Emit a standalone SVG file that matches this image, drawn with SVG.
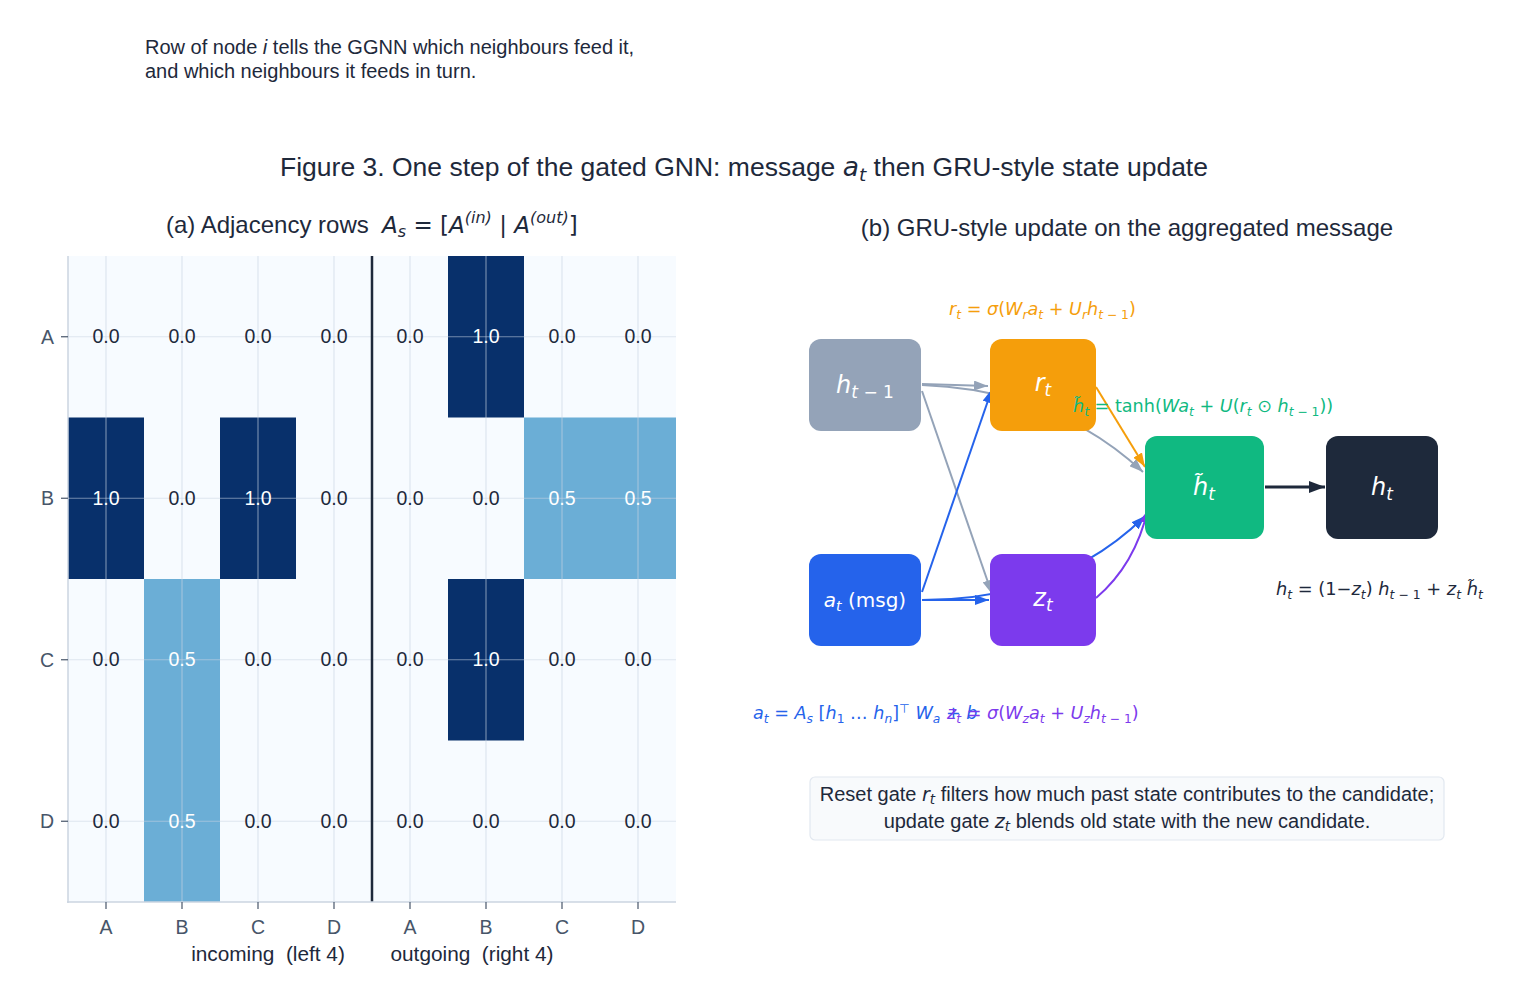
<svg xmlns="http://www.w3.org/2000/svg" width="1527" height="1002" viewBox="0 0 1527 1002">
<defs>
<style>
.t{font-family:"Liberation Sans",Arial,sans-serif;fill:#1e293b}
.m{font-family:"DejaVu Sans",sans-serif}
.i{font-style:italic}
.tick{font-family:"Liberation Sans",Arial,sans-serif;font-size:19.5px;fill:#475569}
.v{font-family:"Liberation Sans",Arial,sans-serif;font-size:19.5px;text-anchor:middle}
.dk{fill:#1e293b}
.wh{fill:#ffffff}
.grid{stroke:#cbd5e1;stroke-opacity:0.55;stroke-width:1.2}
.nl{font-family:"DejaVu Sans",sans-serif;fill:#ffffff;text-anchor:middle}
.e{fill:none;stroke-width:2}
</style>
<marker id="aG" viewBox="0 0 14 10" refX="14" refY="5" markerWidth="14" markerHeight="10" markerUnits="userSpaceOnUse" orient="auto"><path d="M0,0 L14,5 L0,10 z" fill="#94a3b8"/></marker>
<marker id="aB" viewBox="0 0 14 10" refX="14" refY="5" markerWidth="14" markerHeight="10" markerUnits="userSpaceOnUse" orient="auto"><path d="M0,0 L14,5 L0,10 z" fill="#2563eb"/></marker>
<marker id="aO" viewBox="0 0 14 10" refX="14" refY="5" markerWidth="14" markerHeight="10" markerUnits="userSpaceOnUse" orient="auto"><path d="M0,0 L14,5 L0,10 z" fill="#f59e0b"/></marker>
<marker id="aP" viewBox="0 0 14 10" refX="14" refY="5" markerWidth="14" markerHeight="10" markerUnits="userSpaceOnUse" orient="auto"><path d="M0,0 L14,5 L0,10 z" fill="#7c3aed"/></marker>
<marker id="aD" viewBox="0 0 16 12" refX="16" refY="6" markerWidth="16" markerHeight="12" markerUnits="userSpaceOnUse" orient="auto"><path d="M0,0 L16,6 L0,12 z" fill="#1e293b"/></marker>
</defs>
<rect width="1527" height="1002" fill="#ffffff"/>

<!-- top note -->
<text class="t" x="145" y="54" font-size="20">Row of node <tspan font-style="italic">i</tspan> tells the GGNN which neighbours feed it,</text>
<text class="t" x="145" y="78" font-size="20">and which neighbours it feeds in turn.</text>

<!-- title -->
<text class="t" x="744" y="176" font-size="26.5" text-anchor="middle">Figure 3. One step of the gated GNN: message <tspan class="m i">a</tspan><tspan class="m i" font-size="18.5" dy="4.5">t</tspan><tspan dy="-4.5"> then GRU-style state update</tspan></text>

<!-- (a) heatmap -->
<g id="heatmap">
<text class="t" x="166" y="233" font-size="24" xml:space="preserve">(a) Adjacency rows  <tspan class="m i" font-size="23">A</tspan><tspan class="m i" font-size="16" dy="4">s</tspan><tspan class="m" font-size="23" dy="-4"> = [</tspan><tspan class="m i" font-size="23">A</tspan><tspan class="m i" font-size="16" dy="-10">(in)</tspan><tspan class="m" font-size="23" dy="10"> | </tspan><tspan class="m i" font-size="23">A</tspan><tspan class="m i" font-size="16" dy="-10">(out)</tspan><tspan class="m" font-size="23" dy="10">]</tspan></text>
<rect x="68" y="256" width="608" height="646" fill="#f7fbff"/>
<rect x="448" y="256" width="76" height="161.5" fill="#08306b"/>
<rect x="68" y="417.5" width="76" height="161.5" fill="#08306b"/>
<rect x="220" y="417.5" width="76" height="161.5" fill="#08306b"/>
<rect x="524" y="417.5" width="152" height="161.5" fill="#6baed6"/>
<rect x="144" y="579" width="76" height="323" fill="#6baed6"/>
<rect x="448" y="579" width="76" height="161.5" fill="#08306b"/>
<g class="grid">
<line x1="106" y1="256" x2="106" y2="902"/><line x1="182" y1="256" x2="182" y2="902"/>
<line x1="258" y1="256" x2="258" y2="902"/><line x1="334" y1="256" x2="334" y2="902"/>
<line x1="410" y1="256" x2="410" y2="902"/><line x1="486" y1="256" x2="486" y2="902"/>
<line x1="562" y1="256" x2="562" y2="902"/><line x1="638" y1="256" x2="638" y2="902"/>
<line x1="68" y1="336.75" x2="676" y2="336.75"/><line x1="68" y1="498.25" x2="676" y2="498.25"/>
<line x1="68" y1="659.75" x2="676" y2="659.75"/><line x1="68" y1="821.25" x2="676" y2="821.25"/>
</g>
<line x1="372" y1="256" x2="372" y2="902" stroke="#1e293b" stroke-width="2.5"/>
<line x1="68" y1="256" x2="68" y2="903" stroke="#cbd5e1" stroke-width="1.5"/>
<line x1="67" y1="902" x2="676" y2="902" stroke="#cbd5e1" stroke-width="1.5"/>
<g stroke="#475569" stroke-width="1.2">
<line x1="61" y1="336.75" x2="68" y2="336.75"/><line x1="61" y1="498.25" x2="68" y2="498.25"/>
<line x1="61" y1="659.75" x2="68" y2="659.75"/><line x1="61" y1="821.25" x2="68" y2="821.25"/>
<line x1="106" y1="902" x2="106" y2="909"/><line x1="182" y1="902" x2="182" y2="909"/>
<line x1="258" y1="902" x2="258" y2="909"/><line x1="334" y1="902" x2="334" y2="909"/>
<line x1="410" y1="902" x2="410" y2="909"/><line x1="486" y1="902" x2="486" y2="909"/>
<line x1="562" y1="902" x2="562" y2="909"/><line x1="638" y1="902" x2="638" y2="909"/>
</g>
<g class="tick" text-anchor="end">
<text x="54" y="344">A</text><text x="54" y="505">B</text><text x="54" y="667">C</text><text x="54" y="828">D</text>
</g>
<g class="tick" text-anchor="middle">
<text x="106" y="934">A</text><text x="182" y="934">B</text><text x="258" y="934">C</text><text x="334" y="934">D</text>
<text x="410" y="934">A</text><text x="486" y="934">B</text><text x="562" y="934">C</text><text x="638" y="934">D</text>
</g>
<text class="t" x="268" y="961" font-size="20.8" text-anchor="middle" xml:space="preserve">incoming  (left 4)</text>
<text class="t" x="472" y="961" font-size="20.8" text-anchor="middle" xml:space="preserve">outgoing  (right 4)</text>
<g class="v">
<text x="106" y="343" class="dk">0.0</text><text x="182" y="343" class="dk">0.0</text><text x="258" y="343" class="dk">0.0</text><text x="334" y="343" class="dk">0.0</text>
<text x="410" y="343" class="dk">0.0</text><text x="486" y="343" class="wh">1.0</text><text x="562" y="343" class="dk">0.0</text><text x="638" y="343" class="dk">0.0</text>
<text x="106" y="505" class="wh">1.0</text><text x="182" y="505" class="dk">0.0</text><text x="258" y="505" class="wh">1.0</text><text x="334" y="505" class="dk">0.0</text>
<text x="410" y="505" class="dk">0.0</text><text x="486" y="505" class="dk">0.0</text><text x="562" y="505" class="wh">0.5</text><text x="638" y="505" class="wh">0.5</text>
<text x="106" y="666" class="dk">0.0</text><text x="182" y="666" class="wh">0.5</text><text x="258" y="666" class="dk">0.0</text><text x="334" y="666" class="dk">0.0</text>
<text x="410" y="666" class="dk">0.0</text><text x="486" y="666" class="wh">1.0</text><text x="562" y="666" class="dk">0.0</text><text x="638" y="666" class="dk">0.0</text>
<text x="106" y="828" class="dk">0.0</text><text x="182" y="828" class="wh">0.5</text><text x="258" y="828" class="dk">0.0</text><text x="334" y="828" class="dk">0.0</text>
<text x="410" y="828" class="dk">0.0</text><text x="486" y="828" class="dk">0.0</text><text x="562" y="828" class="dk">0.0</text><text x="638" y="828" class="dk">0.0</text>
</g>
</g>

<!-- (b) -->
<text class="t" x="1127" y="236" font-size="24" text-anchor="middle">(b) GRU-style update on the aggregated message</text>

<g id="connectors">
<line class="e" x1="922" y1="384" x2="988" y2="386" stroke="#94a3b8" marker-end="url(#aG)"/>
<line class="e" x1="922" y1="391" x2="992" y2="594" stroke="#94a3b8" marker-end="url(#aG)"/>
<path class="e" d="M922,385 Q1055,390 1143,472" stroke="#94a3b8" marker-end="url(#aG)"/>
<line class="e" x1="922" y1="592" x2="992" y2="389" stroke="#2563eb" marker-end="url(#aB)"/>
<line class="e" x1="922" y1="600" x2="989" y2="600" stroke="#2563eb" marker-end="url(#aB)"/>
<path class="e" d="M922,600 Q1060,600 1145,516" stroke="#2563eb" marker-end="url(#aB)"/>
<line class="e" x1="1096" y1="387" x2="1145" y2="467" stroke="#f59e0b" marker-end="url(#aO)"/>
<path class="e" d="M1096,598 Q1135,565 1148,509" stroke="#7c3aed" marker-end="url(#aP)"/>
<line x1="1265" y1="487" x2="1325" y2="487" stroke="#1e293b" stroke-width="3" marker-end="url(#aD)"/>
</g>

<g id="node-h_prev">
<rect x="809" y="339" width="112" height="92" rx="12" fill="#94a3b8"/>
<text class="nl" x="865" y="393" font-size="24"><tspan class="i">h</tspan><tspan font-size="17" class="i" dy="5">t</tspan><tspan font-size="17" dy="0"> − 1</tspan></text>
</g>
<g id="node-r">
<rect x="990" y="339" width="106" height="92" rx="12" fill="#f59e0b"/>
<text class="nl" x="1043" y="391" font-size="24"><tspan class="i">r</tspan><tspan font-size="17" class="i" dy="5">t</tspan></text>
</g>
<g id="node-a">
<rect x="809" y="554" width="112" height="92" rx="12" fill="#2563eb"/>
<text class="nl" x="865" y="607" font-size="20"><tspan class="i">a</tspan><tspan font-size="14" class="i" dy="4">t</tspan><tspan dy="-4"> (msg)</tspan></text>
</g>
<g id="node-z">
<rect x="990" y="554" width="106" height="92" rx="12" fill="#7c3aed"/>
<text class="nl" x="1043" y="606" font-size="24"><tspan class="i">z</tspan><tspan font-size="17" class="i" dy="5">t</tspan></text>
</g>
<g id="node-hcand">
<rect x="1145" y="436" width="119" height="103" rx="12" fill="#10b981"/>
<text class="nl" x="1204" y="495" font-size="24"><tspan class="i">h̃</tspan><tspan font-size="17" class="i" dy="5">t</tspan></text>
</g>
<g id="node-h">
<rect x="1326" y="436" width="112" height="103" rx="12" fill="#1e293b"/>
<text class="nl" x="1382" y="495" font-size="24"><tspan class="i">h</tspan><tspan font-size="17" class="i" dy="5">t</tspan></text>
</g>

<!-- formulas -->
<text class="m" x="949" y="315" font-size="17.6" fill="#f59e0b"><tspan class="i">r</tspan><tspan class="i" font-size="12.3" dy="3.8">t</tspan><tspan dy="-3.8"> = </tspan><tspan class="i">σ</tspan>(<tspan class="i">W</tspan><tspan class="i" font-size="12.3" dy="3.8">r</tspan><tspan class="i" dy="-3.8">a</tspan><tspan class="i" font-size="12.3" dy="3.8">t</tspan><tspan dy="-3.8"> + </tspan><tspan class="i">U</tspan><tspan class="i" font-size="12.3" dy="3.8">r</tspan><tspan class="i" dy="-3.8">h</tspan><tspan font-size="12.3" dy="3.8"><tspan class="i">t</tspan> − 1</tspan><tspan dy="-3.8">)</tspan></text>

<text class="m" x="1073" y="412" font-size="17.6" fill="#10b981"><tspan class="i">h̃</tspan><tspan class="i" font-size="12.3" dy="3.8">t</tspan><tspan dy="-3.8"> = tanh(</tspan><tspan class="i">Wa</tspan><tspan class="i" font-size="12.3" dy="3.8">t</tspan><tspan dy="-3.8"> + </tspan><tspan class="i">U</tspan>(<tspan class="i">r</tspan><tspan class="i" font-size="12.3" dy="3.8">t</tspan><tspan dy="-3.8"> ⊙ </tspan><tspan class="i">h</tspan><tspan font-size="12.3" dy="3.8"><tspan class="i">t</tspan> − 1</tspan><tspan dy="-3.8">))</tspan></text>

<text class="m" x="1276" y="595" font-size="17.8" fill="#1e293b" xml:space="preserve"><tspan class="i">h</tspan><tspan class="i" font-size="12.4" dy="3.8">t</tspan><tspan dy="-3.8"> = (1−</tspan><tspan class="i">z</tspan><tspan class="i" font-size="12.4" dy="3.8">t</tspan><tspan dy="-3.8">) </tspan><tspan class="i">h</tspan><tspan font-size="12.4" dy="3.8"><tspan class="i">t</tspan> − 1</tspan><tspan dy="-3.8"> + </tspan><tspan class="i">z</tspan><tspan class="i" font-size="12.4" dy="3.8">t</tspan><tspan class="i" dy="-3.8"> h̃</tspan><tspan class="i" font-size="12.4" dy="3.8">t</tspan></text>

<text class="m" x="753" y="719" font-size="17.6" fill="#2563eb"><tspan class="i">a</tspan><tspan class="i" font-size="12.3" dy="3.8">t</tspan><tspan dy="-3.8"> = </tspan><tspan class="i">A</tspan><tspan class="i" font-size="12.3" dy="3.8">s</tspan><tspan dy="-3.8"> [</tspan><tspan class="i">h</tspan><tspan font-size="12.3" dy="3.8">1</tspan><tspan dy="-3.8"> … </tspan><tspan class="i">h</tspan><tspan class="i" font-size="12.3" dy="3.8">n</tspan><tspan dy="-3.8">]</tspan><tspan font-size="12.3" dy="-6.5">⊤</tspan><tspan class="i" dy="6.5"> W</tspan><tspan class="i" font-size="12.3" dy="3.8">a</tspan><tspan dy="-3.8"> + </tspan><tspan class="i">b</tspan></text>

<text class="m" x="947" y="719" font-size="17.6" fill="#7c3aed"><tspan class="i">z</tspan><tspan class="i" font-size="12.3" dy="3.8">t</tspan><tspan dy="-3.8"> = </tspan><tspan class="i">σ</tspan>(<tspan class="i">W</tspan><tspan class="i" font-size="12.3" dy="3.8">z</tspan><tspan class="i" dy="-3.8">a</tspan><tspan class="i" font-size="12.3" dy="3.8">t</tspan><tspan dy="-3.8"> + </tspan><tspan class="i">U</tspan><tspan class="i" font-size="12.3" dy="3.8">z</tspan><tspan class="i" dy="-3.8">h</tspan><tspan font-size="12.3" dy="3.8"><tspan class="i">t</tspan> − 1</tspan><tspan dy="-3.8">)</tspan></text>

<!-- note box -->
<g id="note">
<rect x="810" y="777" width="634" height="63" rx="5" fill="#f8fafc" stroke="#e2e8f0" stroke-width="1.2"/>
<text class="t" x="1127" y="801" font-size="20" text-anchor="middle">Reset gate <tspan class="m i" font-size="19">r</tspan><tspan class="m i" font-size="13.5" dy="3">t</tspan><tspan dy="-3"> filters how much past state contributes to the candidate;</tspan></text>
<text class="t" x="1127" y="828" font-size="20" text-anchor="middle">update gate <tspan class="m i" font-size="19">z</tspan><tspan class="m i" font-size="13.5" dy="3">t</tspan><tspan dy="-3"> blends old state with the new candidate.</tspan></text>
</g>
</svg>
